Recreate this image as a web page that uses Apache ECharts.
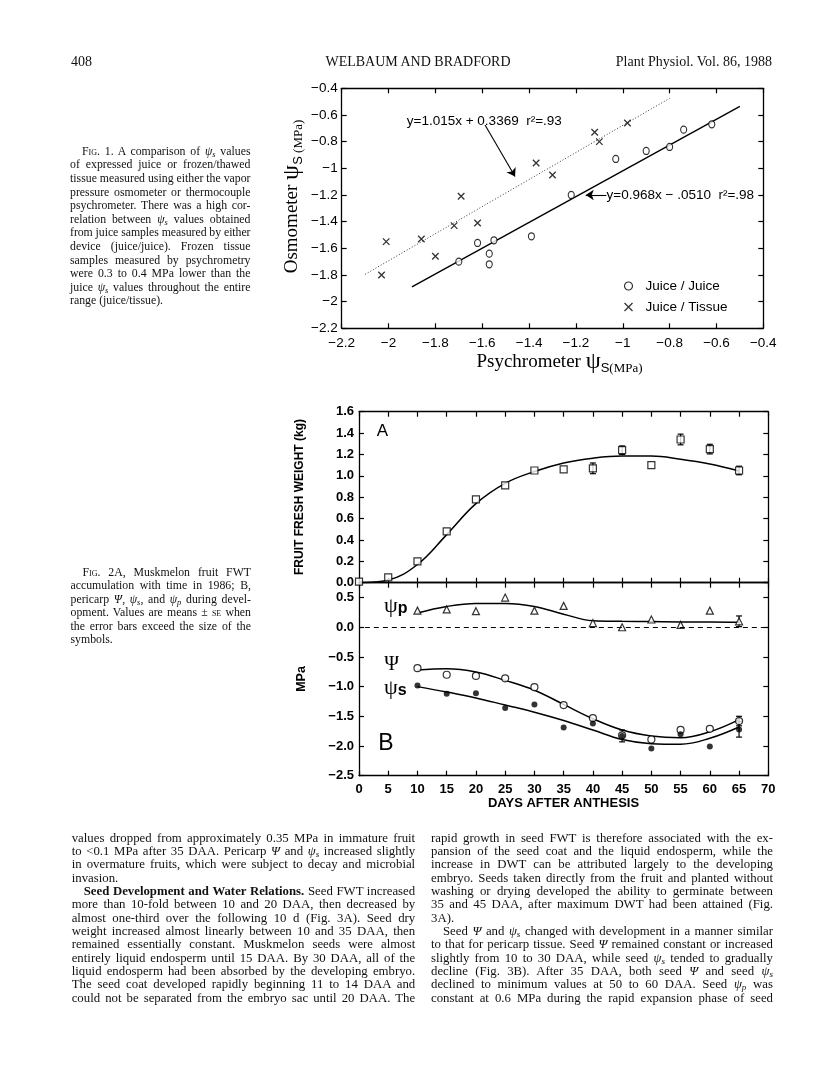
<!DOCTYPE html>
<html>
<head>
<meta charset="utf-8">
<title>Welbaum and Bradford 1988 – Figs. 1 and 2</title>
<script src="https://cdn.jsdelivr.net/npm/echarts@6.0.0/dist/echarts.min.js"></script>
<style>
  html, body { margin:0; padding:0; background:#fff; }
  #page { position:relative; width:816px; height:1073px; overflow:hidden; background:#fff; }
  #chart { position:absolute; left:0; top:0; width:816px; height:1073px; }
  .ln { position:absolute; white-space:nowrap; font-family:"Liberation Serif","Times New Roman",serif; color:#111; text-align:justify; text-align-last:justify; }
  .ln.last { text-align-last:left; text-align:left; }
  .ln sub { font-size:72%; vertical-align:-0.22em; line-height:0; }
  .ln .sc { font-variant:small-caps; }
  .ln .ind { display:inline-block; width:12px; }
</style>
</head>
<body>
<div id="page"><div id="chart"></div></div>
<script>
// ================= DATA =================
// Fig. 1: psychrometer psi_s (x) vs osmometer psi_s (y), MPa
const juiceJuicePsy = [-1.70, -1.62, -1.55, -1.57, -1.57, -1.39, -1.22, -1.03, -0.90, -0.80, -0.74, -0.62];
const juiceJuiceOsm = [-1.70, -1.56, -1.54, -1.64, -1.72, -1.51, -1.20, -0.93, -0.87, -0.84, -0.71, -0.67];
const juiceTissuePsy = [-2.03, -2.01, -1.86, -1.80, -1.72, -1.69, -1.62, -1.37, -1.30, -1.12, -1.10, -0.98];
const juiceTissueOsm = [-1.80, -1.55, -1.53, -1.66, -1.43, -1.21, -1.41, -0.96, -1.05, -0.73, -0.80, -0.66];
// regression line end points as drawn
const fitJuicePsy = [-1.90, -0.50];
const fitJuiceOsm = [-1.89, -0.535];
const fitTissuePsy = [-2.10, -0.80];
const fitTissueOsm = [-1.795, -0.475];
const fig1Names = ['Juice / Juice', 'Juice / Tissue'];
const fig1Equations = ['y=1.015x + 0.3369  r\u00b2=.93', 'y=0.968x \u2212 .0510  r\u00b2=.98'];

// Fig. 2A: fruit fresh weight (kg)
const daysA = [0, 5, 10, 15, 20, 25, 30, 35, 40, 45, 50, 55, 60, 65];
const fwt = [0.01, 0.05, 0.20, 0.48, 0.78, 0.91, 1.05, 1.06, 1.07, 1.24, 1.10, 1.34, 1.25, 1.05];
const fwtSE = [0, 0, 0, 0, 0, 0, 0, 0, 0.05, 0.04, 0, 0.05, 0.045, 0.04];
const fwtCurve = [0.0, 0.025, 0.17, 0.45, 0.74, 0.93, 1.04, 1.12, 1.165, 1.185, 1.185, 1.155, 1.11, 1.045];

// Fig. 2B: pericarp potentials (MPa)
const daysB = [10, 15, 20, 25, 30, 35, 40, 45, 50, 55, 60, 65];
const psiP = [0.28, 0.30, 0.27, 0.50, 0.28, 0.36, 0.07, 0.00, 0.13, 0.04, 0.28, 0.10];
const psiPSE = [0, 0, 0, 0, 0, 0, 0, 0, 0, 0, 0, 0.09];
const psiPCurve = [0.24, 0.35, 0.40, 0.40, 0.35, 0.22, 0.11, 0.10, 0.095, 0.09, 0.09, 0.085];
const psiW = [-0.69, -0.80, -0.82, -0.86, -1.01, -1.31, -1.53, -1.82, -1.89, -1.73, -1.71, -1.58];
const psiWSE = [0, 0, 0, 0, 0, 0, 0, 0, 0, 0, 0, 0.08];
const psiWCurve = [-0.72, -0.70, -0.755, -0.895, -1.06, -1.30, -1.54, -1.73, -1.83, -1.86, -1.76, -1.555];
const psiS = [-0.98, -1.12, -1.11, -1.36, -1.30, -1.69, -1.62, -1.83, -2.04, -1.80, -2.01, -1.72];
const psiSSE = [0, 0, 0, 0, 0, 0, 0, 0.10, 0, 0, 0, 0.13];
const psiSCurve = [-1.00, -1.09, -1.19, -1.31, -1.43, -1.57, -1.73, -1.89, -1.96, -1.97, -1.87, -1.68];

// ================= PAGE TEXT =================
const headerLeft = '408';
const headerMid = 'WELBAUM AND BRADFORD';
const headerRight = 'Plant Physiol. Vol. 86, 1988';
const cap1 = [
 '<span class="ind"></span><span class="sc">Fig.</span> 1. A comparison of <i>ψ<sub>s</sub></i> values',
 'of expressed juice or frozen/thawed',
 'tissue measured using either the vapor',
 'pressure osmometer or thermocouple',
 'psychrometer. There was a high cor-',
 'relation between <i>ψ<sub>s</sub></i> values obtained',
 'from juice samples measured by either',
 'device (juice/juice). Frozen tissue',
 'samples measured by psychrometry',
 'were 0.3 to 0.4 MPa lower than the',
 'juice <i>ψ<sub>s</sub></i> values throughout the entire',
 'range (juice/tissue).'
];
const cap2 = [
 '<span class="ind"></span><span class="sc">Fig.</span> 2A, Muskmelon fruit FWT',
 'accumulation with time in 1986; B,',
 'pericarp <i>Ψ</i>, <i>ψ<sub>s</sub></i>, and <i>ψ<sub>p</sub></i> during devel-',
 'opment. Values are means ± <span class="sc">se</span> when',
 'the error bars exceed the size of the',
 'symbols.'
];
const colLeft = [
 'values dropped from approximately 0.35 MPa in immature fruit',
 'to &lt;0.1 MPa after 35 DAA. Pericarp <i>Ψ</i> and <i>ψ<sub>s</sub></i> increased slightly',
 'in overmature fruits, which were subject to decay and microbial',
 'invasion.',
 '<span class="ind"></span><b>Seed Development and Water Relations.</b> Seed FWT increased',
 'more than 10-fold between 10 and 20 DAA, then decreased by',
 'almost one-third over the following 10 d (Fig. 3A). Seed dry',
 'weight increased almost linearly between 10 and 35 DAA, then',
 'remained essentially constant. Muskmelon seeds were almost',
 'entirely liquid endosperm until 15 DAA. By 30 DAA, all of the',
 'liquid endosperm had been absorbed by the developing embryo.',
 'The seed coat developed rapidly beginning 11 to 14 DAA and',
 'could not be separated from the embryo sac until 20 DAA. The'
];
const colRight = [
 'rapid growth in seed FWT is therefore associated with the ex-',
 'pansion of the seed coat and the liquid endosperm, while the',
 'increase in DWT can be attributed largely to the developing',
 'embryo. Seeds taken directly from the fruit and planted without',
 'washing or drying developed the ability to germinate between',
 '35 and 45 DAA, after maximum DWT had been attained (Fig.',
 '3A).',
 '<span class="ind"></span>Seed <i>Ψ</i> and <i>ψ<sub>s</sub></i> changed with development in a manner similar',
 'to that for pericarp tissue. Seed <i>Ψ</i> remained constant or increased',
 'slightly from 10 to 30 DAA, while seed <i>ψ<sub>s</sub></i> tended to gradually',
 'decline (Fig. 3B). After 35 DAA, both seed <i>Ψ</i> and seed <i>ψ<sub>s</sub></i>',
 'declined to minimum values at 50 to 60 DAA. Seed <i>ψ<sub>p</sub></i> was',
 'constant at 0.6 MPa during the rapid expansion phase of seed'
];

const page = document.getElementById('page');
function placeLines(lines, lastIdx, left, width, y0, step, fontSize) {
  lines.forEach((html, i) => {
    const d = document.createElement('div');
    d.className = 'ln' + (lastIdx.indexOf(i) >= 0 ? ' last' : '');
    d.style.left = left + 'px';
    d.style.top = (y0 + i * step - step / 2) + 'px';
    d.style.height = step + 'px';
    d.style.lineHeight = step + 'px';
    d.style.fontSize = fontSize + 'px';
    d.innerHTML = html;
    page.appendChild(d);
    const nat = d.getBoundingClientRect().width;
    d.style.width = width + 'px';
    if (nat > width) {
      const n = d.textContent.length;
      d.style.letterSpacing = ((width - nat) / n) + 'px';
    }
  });
}
function placeSingle(text, left, right, cy, fontSize, align) {
  const d = document.createElement('div');
  d.className = 'ln last';
  d.style.top = (cy - 8) + 'px';
  d.style.height = '16px';
  d.style.lineHeight = '16px';
  d.style.fontSize = fontSize + 'px';
  d.textContent = text;
  if (align === 'right') { d.style.right = (816 - right) + 'px'; }
  else if (align === 'center') { d.style.left = left + 'px'; d.style.width = (right - left) + 'px'; d.style.textAlign = 'center'; d.style.textAlignLast = 'center'; }
  else { d.style.left = left + 'px'; }
  page.appendChild(d);
}
placeSingle(headerLeft, 71, 0, 61.5, 14, 'left');
placeSingle(headerMid, 313, 523, 61.5, 14, 'center');
placeSingle(headerRight, 0, 772, 61.5, 14, 'right');
placeLines(cap1, [11], 70, 180.5, 151.5, 13.6, 11.8);
placeLines(cap2, [5], 70.5, 180.5, 572.6, 13.5, 11.8);
placeLines(colLeft, [3], 71.7, 343.5, 838.3, 13.33, 12.8);
placeLines(colRight, [6], 431, 342, 838.3, 13.33, 12.8);

// ================= CHART =================
const SANS = '"Liberation Sans", Arial, Helvetica, sans-serif';
const SERIF = '"Liberation Serif", "Times New Roman", serif';
const zip = (a, b) => a.map((v, i) => [v, b[i]]);
const minus = s => s.replace('-', '\u2212');
function fmt1(v) { const r = Math.round(v * 10) / 10; return minus(Number.isInteger(r) ? String(r) : r.toFixed(1)); }
function fmt2(v) { const r = Math.round(v * 10) / 10; return minus(r.toFixed(1)); }
function fmtB(v) { if (Math.abs(v * 2 - Math.round(v * 2)) > 1e-6) return ''; return fmt2(v); }

function axis(grid, pos, min, max, interval, label) {
  return {
    type: 'value', gridIndex: grid, position: pos, min: min, max: max, interval: interval,
    axisLine: { show: true, onZero: false, lineStyle: { color: '#000', width: 1.3 } },
    axisTick: { show: true, inside: true, length: 5, lineStyle: { color: '#000', width: 1.2 } },
    splitLine: { show: false },
    axisLabel: label ? Object.assign({ show: true, color: '#000', showMinLabel: true, showMaxLabel: true }, label) : { show: false }
  };
}
const lab1y = { fontFamily: SANS, fontSize: 13.5, margin: 4, formatter: fmt1 };
const lab1x = { fontFamily: SANS, fontSize: 13.5, margin: 8, formatter: fmt1 };
const lab2A = { fontFamily: SANS, fontSize: 13, fontWeight: 'bold', margin: 5, formatter: fmt2 };
const lab2B = { fontFamily: SANS, fontSize: 13, fontWeight: 'bold', margin: 5, formatter: fmtB, showMaxLabel: false };
const lab2x = { fontFamily: SANS, fontSize: 13, fontWeight: 'bold', margin: 7, formatter: v => String(v) };

const hollow = { color: '#fff', borderColor: '#000', borderWidth: 1.2 };
const crossPath = 'path://M0,0L10,10M10,0L0,10';
const crossStyle = { color: 'none', borderColor: '#000', borderWidth: 1.3 };

function errRows(xs, ys, es) {
  const out = [];
  xs.forEach((x, i) => { if (es[i] > 0) out.push([x, ys[i] - es[i], ys[i] + es[i]]); });
  return out;
}
function errRender(params, api) {
  const x = api.value(0);
  const p1 = api.coord([x, api.value(2)]);
  const p2 = api.coord([x, api.value(1)]);
  const w = 3, st = { stroke: '#000', lineWidth: 1.2 };
  return { type: 'group', children: [
    { type: 'line', shape: { x1: p1[0], y1: p1[1], x2: p2[0], y2: p2[1] }, style: st },
    { type: 'line', shape: { x1: p1[0] - w, y1: p1[1], x2: p1[0] + w, y2: p1[1] }, style: st },
    { type: 'line', shape: { x1: p2[0] - w, y1: p2[1], x2: p2[0] + w, y2: p2[1] }, style: st }
  ] };
}
const curveStyle = { color: '#000', width: 1.5 };

const chart = echarts.init(document.getElementById('chart'), null, { renderer: 'canvas', width: 816, height: 1073 });
const option = {
  animation: false,
  backgroundColor: 'transparent',
  grid: [
    { left: 341.7, top: 88.3, width: 421.6, height: 240, containLabel: false, outerBoundsMode: 'none' },
    { left: 359, top: 411.7, width: 409.3, height: 171, containLabel: false, outerBoundsMode: 'none' },
    { left: 359, top: 582.7, width: 409.3, height: 193, containLabel: false, outerBoundsMode: 'none' }
  ],
  xAxis: [
    axis(0, 'bottom', -2.2, -0.4, 0.2, lab1x),
    axis(0, 'top', -2.2, -0.4, 0.2, null),
    axis(1, 'bottom', 0, 70, 5, null),
    axis(1, 'top', 0, 70, 5, null),
    axis(2, 'bottom', 0, 70, 5, lab2x),
    axis(2, 'top', 0, 70, 5, null)
  ],
  yAxis: [
    axis(0, 'left', -2.2, -0.4, 0.2, lab1y),
    axis(0, 'right', -2.2, -0.4, 0.2, null),
    axis(1, 'left', 0, 1.6, 0.2, lab2A),
    axis(1, 'right', 0, 1.6, 0.2, null),
    axis(2, 'left', -2.5, 0.75, 0.5, lab2B),
    axis(2, 'right', -2.5, 0.75, 0.5, null)
  ],
  legend: {
    orient: 'vertical', left: 617, top: 274, itemGap: 7, itemWidth: 9, itemHeight: 8,
    textStyle: { fontFamily: SANS, fontSize: 13.5, color: '#000' },
    formatter: n => '  ' + n,
    data: [
      { name: fig1Names[0], icon: 'circle', itemStyle: { color: '#fff', borderColor: '#000', borderWidth: 1.2 } },
      { name: fig1Names[1], icon: crossPath, itemStyle: crossStyle }
    ]
  },
  series: [
    { name: 'fitTissue', type: 'line', xAxisIndex: 0, yAxisIndex: 0, data: zip(fitTissuePsy, fitTissueOsm),
      showSymbol: false, silent: true, lineStyle: { color: '#333', width: 1, type: [1, 2] }, z: 2 },
    { name: 'fitJuice', type: 'line', xAxisIndex: 0, yAxisIndex: 0, data: zip(fitJuicePsy, fitJuiceOsm),
      showSymbol: false, silent: true, lineStyle: { color: '#000', width: 1.4 }, z: 2,
      markLine: { silent: true, symbol: ['none', 'arrow'], symbolSize: 8, label: { show: false },
        lineStyle: { color: '#000', width: 1.1, type: 'solid' },
        data: [
          [{ coord: [-1.588, -0.675] }, { coord: [-1.46, -1.062] }],
          [{ coord: [-1.07, -1.2] }, { coord: [-1.158, -1.2] }]
        ] } },
    { name: fig1Names[0], type: 'scatter', xAxisIndex: 0, yAxisIndex: 0, data: zip(juiceJuicePsy, juiceJuiceOsm),
      symbol: 'circle', symbolSize: [6, 7], itemStyle: hollow, z: 3 },
    { name: fig1Names[1], type: 'scatter', xAxisIndex: 0, yAxisIndex: 0, data: zip(juiceTissuePsy, juiceTissueOsm),
      symbol: crossPath, symbolSize: 6.5, itemStyle: crossStyle, z: 3 },

    // Fig 2A
    { name: 'fwtErr', type: 'custom', xAxisIndex: 2, yAxisIndex: 2, data: errRows(daysA, fwt, fwtSE), renderItem: errRender, z: 1, silent: true },
    { name: 'fwtCurve', type: 'line', xAxisIndex: 2, yAxisIndex: 2, data: zip(daysA, fwtCurve), smooth: 0.4, showSymbol: false, lineStyle: curveStyle, z: 2, silent: true },
    { name: 'FWT', type: 'scatter', xAxisIndex: 2, yAxisIndex: 2, data: zip(daysA, fwt), symbol: 'rect', symbolSize: 7, itemStyle: hollow, z: 3 },

    // Fig 2B
    { name: 'bErr', type: 'custom', xAxisIndex: 4, yAxisIndex: 4,
      data: errRows(daysB, psiP, psiPSE).concat(errRows(daysB, psiW, psiWSE), errRows(daysB, psiS, psiSSE)),
      renderItem: errRender, z: 1, silent: true },
    { name: 'psiPCurve', type: 'line', xAxisIndex: 4, yAxisIndex: 4, data: zip(daysB, psiPCurve), smooth: 0.4, showSymbol: false, lineStyle: curveStyle, z: 2, silent: true,
      markLine: { silent: true, symbol: 'none', label: { show: false }, lineStyle: { color: '#000', width: 1.2, type: [5, 4] },
        data: [[{ coord: [1, 0] }, { coord: [70, 0] }]] } },
    { name: 'psiWCurve', type: 'line', xAxisIndex: 4, yAxisIndex: 4, data: zip(daysB, psiWCurve), smooth: 0.4, showSymbol: false, lineStyle: curveStyle, z: 2, silent: true },
    { name: 'psiSCurve', type: 'line', xAxisIndex: 4, yAxisIndex: 4, data: zip(daysB, psiSCurve), smooth: 0.4, showSymbol: false, lineStyle: curveStyle, z: 2, silent: true },
    { name: 'psiP', type: 'scatter', xAxisIndex: 4, yAxisIndex: 4, data: zip(daysB, psiP), symbol: 'triangle', symbolSize: 7, itemStyle: hollow, z: 3 },
    { name: 'psiW', type: 'scatter', xAxisIndex: 4, yAxisIndex: 4, data: zip(daysB, psiW), symbol: 'circle', symbolSize: 7, itemStyle: hollow, z: 3 },
    { name: 'psiS', type: 'scatter', xAxisIndex: 4, yAxisIndex: 4, data: zip(daysB, psiS), symbol: 'circle', symbolSize: 6, itemStyle: { color: '#000' }, z: 3 }
  ]
};
chart.setOption(option);

// ----- titles and annotations -----
const px = (p) => chart.convertToPixel({ xAxisIndex: 0, yAxisIndex: 0 }, p);
const t1 = px([-1.922, -0.645]);
const t2 = px([-1.069, -1.2]);
function txt(x, y, text, font, extra) {
  return Object.assign({ type: 'text', x: x, y: y, silent: true,
    style: Object.assign({ text: text, fill: '#000', align: 'center', verticalAlign: 'middle' }, font) }, extra || {});
}
const psiTitle = {
  a: { fontFamily: SERIF, fontSize: 19, lineHeight: 26, verticalAlign: 'middle' },
  p: { fontFamily: SERIF, fontSize: 24, lineHeight: 26, verticalAlign: 'middle' },
  s: { fontFamily: SANS, fontSize: 13, lineHeight: 16, verticalAlign: 'bottom' },
  m: { fontFamily: SERIF, fontSize: 13, lineHeight: 21, verticalAlign: 'bottom' }
};
chart.setOption({
  graphic: [
    txt(292, 196.5, '{a|Osmometer }{p|ψ}{s|S}{m| (MPa)}', { rich: psiTitle }, { rotation: Math.PI / 2 }),
    txt(559.5, 362, '{a|Psychrometer }{p|ψ}{s|S}{m|(MPa)}', { rich: psiTitle }),
    txt(t1[0], t1[1], fig1Equations[0], { fontFamily: SANS, fontSize: 13.5, align: 'left' }),
    txt(t2[0], t2[1], fig1Equations[1], { fontFamily: SANS, fontSize: 13.5, align: 'left' }),
    txt(300, 497, 'FRUIT FRESH WEIGHT (kg)', { fontFamily: SANS, fontSize: 12, fontWeight: 'bold' }, { rotation: Math.PI / 2 }),
    txt(302, 679, 'MPa', { fontFamily: SANS, fontSize: 12.5, fontWeight: 'bold' }, { rotation: Math.PI / 2 }),
    txt(563.5, 803, 'DAYS AFTER ANTHESIS', { fontFamily: SANS, fontSize: 13, fontWeight: 'bold' }),
    txt(382.5, 431, 'A', { fontFamily: SANS, fontSize: 17 }),
    txt(386, 743.3, 'B', { fontFamily: SANS, fontSize: 23 }),
    txt(384, 606, '{g|ψ}{s|p}', { align: 'left', rich: {
      g: { fontFamily: SERIF, fontSize: 22, lineHeight: 22, verticalAlign: 'middle' },
      s: { fontFamily: SANS, fontSize: 16, fontWeight: 'bold', lineHeight: 12, verticalAlign: 'bottom' } } }),
    txt(391.7, 665, 'Ψ', { fontFamily: SERIF, fontSize: 20 }),
    txt(384, 688, '{g|ψ}{s|s}', { align: 'left', rich: {
      g: { fontFamily: SERIF, fontSize: 22, lineHeight: 22, verticalAlign: 'middle' },
      s: { fontFamily: SANS, fontSize: 16, fontWeight: 'bold', lineHeight: 12, verticalAlign: 'bottom' } } })
  ]
});
</script>
</body>
</html>
